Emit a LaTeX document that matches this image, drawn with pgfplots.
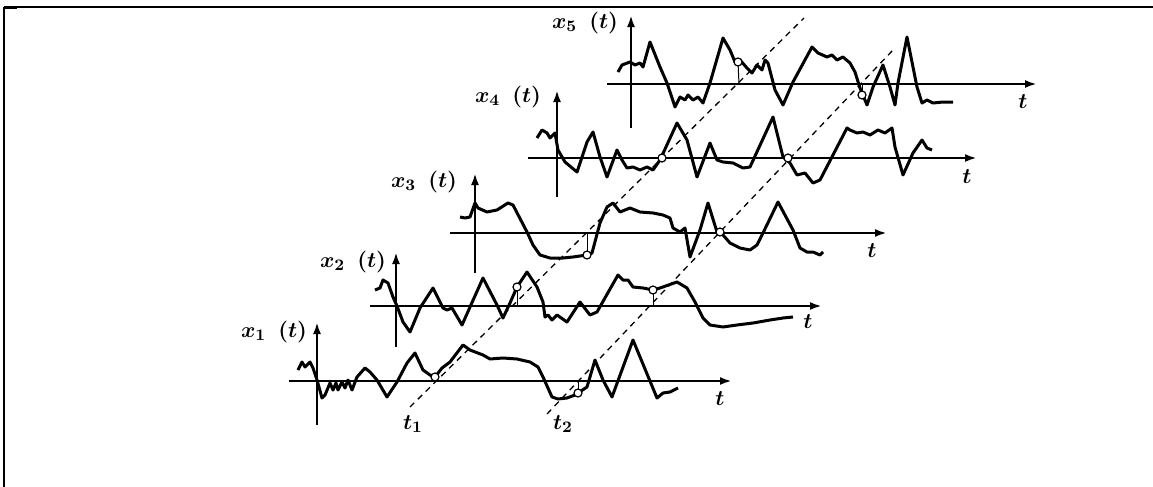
\documentclass[border=0pt]{standalone}
\usepackage{pgfplots}
\pgfplotsset{compat=1.18}
\usetikzlibrary{arrows.meta}
\begin{document}
\begin{tikzpicture}[lbl/.style={font=\fontsize{11}{13}\selectfont\boldmath}]
\begin{axis}[
  scale only axis, width=576.5pt, height=243.5pt,
  xmin=0, xmax=1153, ymin=0, ymax=487, y dir=reverse,
  hide axis, clip=false,
  every axis plot/.append style={no markers},
]
% frame
\addplot[black, line width=0.6pt] coordinates {(4,7) (1153,7)};
\addplot[black, line width=1pt] coordinates {(4,7) (4,487)};
\addplot[black, line width=1pt] coordinates {(4,8) (17,8)};
% horizontal axes
\addplot[black, line width=1.2pt, -{Latex[length=6pt,width=4pt]}] coordinates {(289,381) (732,381)};
\addplot[black, line width=1.2pt, -{Latex[length=6pt,width=4pt]}] coordinates {(370,306) (822,306)};
\addplot[black, line width=1.2pt, -{Latex[length=6pt,width=4pt]}] coordinates {(450,233) (887,233)};
\addplot[black, line width=1.2pt, -{Latex[length=6pt,width=4pt]}] coordinates {(528,158) (977,158)};
\addplot[black, line width=1.2pt, -{Latex[length=6pt,width=4pt]}] coordinates {(607,84) (1037,84)};
% vertical axes
\addplot[black, line width=1.2pt, -{Latex[length=6pt,width=4pt]}] coordinates {(317,425) (317,322)};
\addplot[black, line width=1.2pt, -{Latex[length=6pt,width=4pt]}] coordinates {(396,347) (396,252)};
\addplot[black, line width=1.2pt, -{Latex[length=6pt,width=4pt]}] coordinates {(475,273) (475,173)};
\addplot[black, line width=1.2pt, -{Latex[length=6pt,width=4pt]}] coordinates {(557,197) (557,90)};
\addplot[black, line width=1.2pt, -{Latex[length=6pt,width=4pt]}] coordinates {(631,128) (631,15)};
% dashed lines
\addplot[black, line width=0.65pt, dash pattern=on 3pt off 2.5pt] coordinates {(410,407) (804,18)};
\addplot[black, line width=0.65pt, dash pattern=on 3pt off 2.5pt] coordinates {(547,414) (893,50)};
% trace 1
\addplot[black, line width=1.5pt, line join=round] coordinates {
(298,370) (302,362) (305,367) (310,362) (313,368) (317,380) (322,398) (325,395)
(330,383) (333,390) (336,383) (338,390) (342,382) (345,388) (348,380) (352,390)
(357,377) (365,368) (370,372) (377,380) (387,397) (397,382) (407,363) (415,353)
(423,370) (430,375) (435,377) (442,368) (450,362) (463,345) (470,350) (483,355)
(490,359) (503,358) (517,359) (530,362) (538,367) (543,377) (552,397) (558,399)
(567,398) (575,395) (578,393) (587,387) (595,360) (603,380) (612,397) (633,340)
(657,398) (663,393) (670,392) (678,388)};
% trace 2
\addplot[black, line width=1.5pt, line join=round] coordinates {
(375,290) (380,288) (383,280) (388,283) (393,297) (397,306) (403,322) (410,332)
(420,308) (433,288) (443,308) (447,310) (452,308) (462,325) (470,307) (483,278)
(497,305) (503,318) (510,303) (517,287) (527,272) (537,287) (543,302) (545,317)
(548,315) (552,320) (557,315) (567,322) (580,302) (590,315) (597,312) (618,275)
(623,280) (628,280) (633,287) (643,288) (653,290) (660,288) (677,282) (687,288)
(695,302) (703,318) (710,325) (723,327) (737,325) (753,323) (770,320) (783,318)
(793,317)};
% trace 3
\addplot[black, line width=1.5pt, line join=round] coordinates {
(460,217) (465,218) (470,217) (475,203) (478,208) (487,212) (497,210) (508,203)
(513,205) (527,232) (533,245) (540,255) (550,258) (563,258) (573,257) (587,255)
(592,253) (600,223) (607,207) (613,203) (620,212) (630,208) (640,212) (653,213)
(663,215) (670,218) (673,228) (680,232) (685,228) (690,257) (700,230) (708,203)
(717,232) (723,235) (730,243) (740,248) (750,250) (757,245) (763,233) (778,202)
(793,230) (800,248) (807,252) (813,252) (820,255) (823,252)};
% trace 4
\addplot[black, line width=1.5pt, line join=round] coordinates {
(537,138) (542,130) (547,133) (550,138) (555,133) (558,150) (565,162) (577,172)
(587,142) (593,132) (600,157) (607,177) (617,150) (622,160) (627,168) (633,167)
(640,170) (647,167) (653,170) (660,160) (677,123) (687,140) (697,177) (710,143)
(717,160) (723,162) (733,163) (743,168) (750,167) (773,117) (783,157) (790,163)
(797,175) (805,173) (813,183) (820,180) (847,128) (850,130) (857,133) (863,132)
(870,135) (878,130) (885,133) (892,128) (895,147) (903,175) (913,153) (922,140)
(927,148) (932,150)};
% trace 5
\addplot[black, line width=1.5pt, line join=round] coordinates {
(618,72) (622,65) (630,62) (635,65) (640,63) (643,67) (650,42) (660,67)
(667,83) (675,107) (680,97) (685,100) (688,95) (693,100) (698,97) (703,103)
(710,83) (723,38) (730,50) (735,62) (740,60) (747,68) (752,73) (757,65)
(762,70) (765,60) (768,63) (775,90) (783,105) (793,82) (812,47) (818,53)
(827,57) (832,55) (837,60) (843,57) (850,63) (855,72) (860,88) (867,105)
(873,87) (883,65) (890,87) (895,105) (898,83) (907,37) (917,87) (922,103)
(927,100) (933,103) (943,102) (953,102)};
% thin verticals to circles
\addplot[black, line width=0.5pt] coordinates {(578,381) (578,393)};
\addplot[black, line width=0.5pt] coordinates {(517,306) (517,288)};
\addplot[black, line width=0.5pt] coordinates {(653,306) (653,290)};
\addplot[black, line width=0.5pt] coordinates {(587,233) (587,255)};
\addplot[black, line width=0.5pt] coordinates {(739,84) (738,62)};
\addplot[black, line width=0.5pt] coordinates {(862,84) (862,95)};
% circles
\addplot[only marks, mark=*, mark size=2pt, mark options={fill=white, draw=black, line width=0.6pt}] coordinates {
(435,377) (578,393) (517,287) (653,290) (587,255) (720,232) (662,158) (788,158) (738,62) (862,95)};
% labels
\node[lbl, anchor=east] at (axis cs:314,332) {$x_1\hspace{6pt}(t)$};
\node[lbl, anchor=east] at (axis cs:393,262) {$x_2\hspace{6pt}(t)$};
\node[lbl, anchor=east] at (axis cs:464,182) {$x_3\hspace{6pt}(t)$};
\node[lbl, anchor=east] at (axis cs:548,97) {$x_4\hspace{6pt}(t)$};
\node[lbl, anchor=east] at (axis cs:625,23) {$x_5\hspace{6pt}(t)$};
\node[lbl] at (axis cs:720,399) {$t$};
\node[lbl] at (axis cs:808,322) {$t$};
\node[lbl] at (axis cs:872,251) {$t$};
\node[lbl] at (axis cs:967,177) {$t$};
\node[lbl] at (axis cs:1023,102) {$t$};
\node[lbl] at (axis cs:413,424) {$t_1$};
\node[lbl] at (axis cs:563,424) {$t_2$};
\end{axis}
\pgfresetboundingbox
\path (current axis.south west) rectangle (current axis.north east);
\end{tikzpicture}
\end{document}
